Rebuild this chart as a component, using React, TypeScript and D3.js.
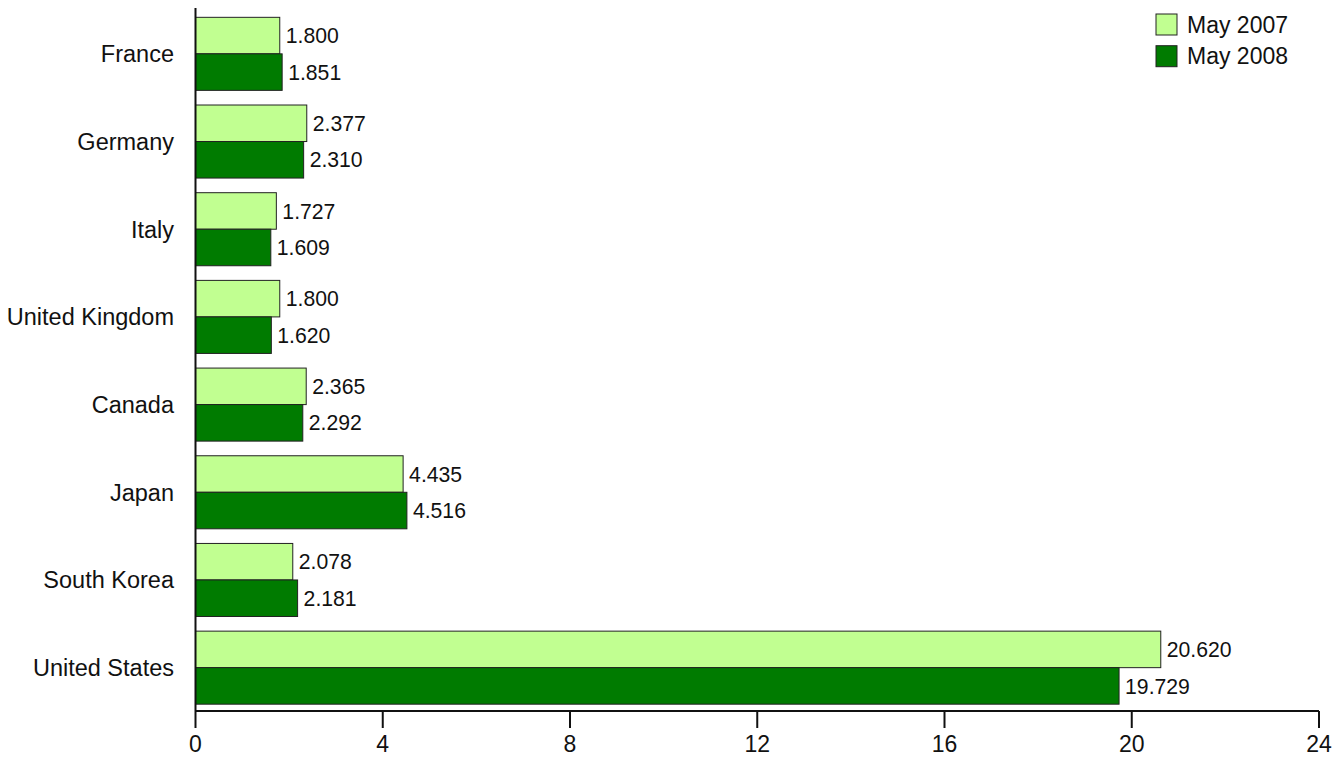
import React, { useEffect, useRef } from 'react';
import * as d3 from 'd3';

const width = 1344;
const height = 760;

const countries = ['France', 'Germany', 'Italy', 'United Kingdom', 'Canada', 'Japan', 'South Korea', 'United States'];
const may2007 = [1.8, 2.377, 1.727, 1.8, 2.365, 4.435, 2.078, 20.62];
const may2008 = [1.851, 2.31, 1.609, 1.62, 2.292, 4.516, 2.181, 19.729];
const seriesNames = ['May 2007', 'May 2008'];
const seriesColors = ['#c1ff91', '#007b00'];
const xTicks = [0, 4, 8, 12, 16, 20, 24];

const font = 'Liberation Sans, Arial, Helvetica, sans-serif';

const App: React.FC = () => {
  const ref = useRef<SVGSVGElement>(null);

  useEffect(() => {
    if (!ref.current) return;
    const svg = d3.select(ref.current);
    svg.selectAll('*').remove();

    const x = d3.scaleLinear().domain([0, 24]).range([195.5, 1319]);
    const y = d3.scaleBand<string>().domain(countries).range([10, 711.5]).paddingInner(0.167).paddingOuter(0.0835);
    const inner = d3.scaleBand<number>().domain([0, 1]).range([0, y.bandwidth()]);

    const series = [may2007, may2008];

    const groups = svg
      .append('g')
      .selectAll('g')
      .data(countries)
      .enter()
      .append('g')
      .attr('transform', d => `translate(0,${y(d)})`);

    series.forEach((values, si) => {
      groups
        .append('rect')
        .attr('x', x(0))
        .attr('y', inner(si) as number)
        .attr('width', (_d, i) => x(values[i]) - x(0))
        .attr('height', inner.bandwidth())
        .attr('fill', seriesColors[si])
        .attr('stroke', '#222')
        .attr('stroke-width', 1);

      groups
        .append('text')
        .attr('x', (_d, i) => x(values[i]) + 6)
        .attr('y', (inner(si) as number) + inner.bandwidth() / 2)
        .attr('dy', '0.36em')
        .attr('font-family', font)
        .attr('font-size', 21.2)
        .attr('fill', '#111')
        .text((_d, i) => values[i].toFixed(3));
    });

    // category labels
    svg
      .append('g')
      .selectAll('text')
      .data(countries)
      .enter()
      .append('text')
      .attr('x', 174)
      .attr('y', d => (y(d) as number) + y.bandwidth() / 2)
      .attr('dy', '0.36em')
      .attr('text-anchor', 'end')
      .attr('font-family', font)
      .attr('font-size', 23.5)
      .attr('fill', '#111')
      .text(d => d);

    // axes
    const axisG = svg.append('g').attr('stroke', '#111').attr('stroke-width', 2);
    axisG.append('line').attr('x1', x(0)).attr('x2', x(0)).attr('y1', 8).attr('y2', 711);
    axisG.append('line').attr('x1', x(0)).attr('x2', x(24)).attr('y1', 711).attr('y2', 711);
    axisG
      .selectAll('line.tick')
      .data(xTicks)
      .enter()
      .append('line')
      .attr('class', 'tick')
      .attr('x1', d => x(d))
      .attr('x2', d => x(d))
      .attr('y1', 711)
      .attr('y2', 728);

    svg
      .append('g')
      .selectAll('text')
      .data(xTicks)
      .enter()
      .append('text')
      .attr('x', d => x(d))
      .attr('y', 752)
      .attr('text-anchor', 'middle')
      .attr('font-family', font)
      .attr('font-size', 23)
      .attr('fill', '#111')
      .text(d => d);

    // legend
    const legend = svg
      .append('g')
      .selectAll('g')
      .data(seriesNames)
      .enter()
      .append('g')
      .attr('transform', (_d, i) => `translate(1156,${14 + i * 31.7})`);
    legend
      .append('rect')
      .attr('width', 21)
      .attr('height', 21)
      .attr('fill', (_d, i) => seriesColors[i])
      .attr('stroke', '#222')
      .attr('stroke-width', 1);
    legend
      .append('text')
      .attr('x', 31)
      .attr('y', 10.5)
      .attr('dy', '0.36em')
      .attr('font-family', font)
      .attr('font-size', 23)
      .attr('fill', '#111')
      .text(d => d);
  }, []);

  return (
    <svg
      ref={ref}
      width={width}
      height={height}
      style={{ position: 'absolute', top: 0, left: 0, background: '#fff' }}
    />
  );
};

export default App;
